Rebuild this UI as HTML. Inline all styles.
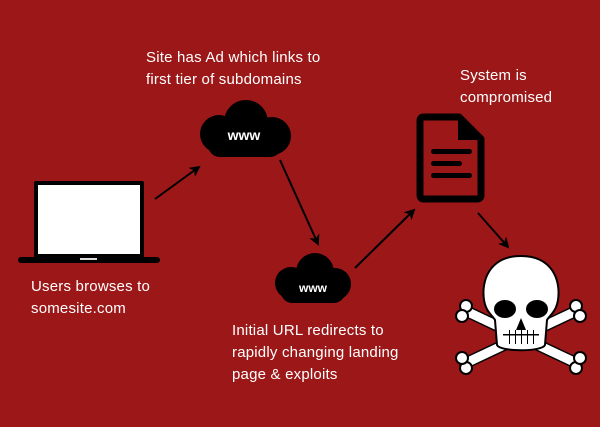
<!DOCTYPE html>
<html><head><style>
html,body{margin:0;padding:0;}
body{width:600px;height:427px;background:#9c1718;position:relative;overflow:hidden;font-family:"Liberation Sans",sans-serif;}
.t{position:absolute;color:#fff;font-size:15px;line-height:22px;white-space:nowrap;letter-spacing:0.2px;}
svg{position:absolute;left:0;top:0;}
</style></head><body>
<svg width="600" height="427" viewBox="0 0 600 427">
<defs><marker id="a" markerWidth="11" markerHeight="11" refX="9" refY="5.5" orient="auto" markerUnits="userSpaceOnUse"><path d="M0,0 L11,5.5 L0,11 L3,5.5z" fill="#000"/></marker></defs>
<rect x="34" y="181" width="110" height="80" rx="2" fill="#000"/>
<rect x="38" y="185" width="102" height="69" fill="#fff"/>
<rect x="18" y="257" width="142" height="6" rx="3" fill="#000"/>
<rect x="80" y="258" width="17" height="2" fill="#ddd"/>
<g fill="#000">
<circle cx="246" cy="122" r="22"/><circle cx="219" cy="134" r="19"/><circle cx="272" cy="136" r="19"/>
<rect x="208" y="128" width="74" height="29" rx="12"/>
</g>
<text x="244" y="140" fill="#fff" font-family="Liberation Sans" font-weight="bold" font-size="14" text-anchor="middle">www</text>
<g fill="#000">
<circle cx="315" cy="272" r="19"/><circle cx="291" cy="283" r="16"/><circle cx="335" cy="284" r="16"/>
<rect x="281" y="278" width="64" height="25" rx="11"/>
</g>
<text x="313" y="292" fill="#fff" font-family="Liberation Sans" font-weight="bold" font-size="12" text-anchor="middle">www</text>
<path d="M424,117 H459 L481,139 V195 Q481,199 477,199 H424 Q420,199 420,195 V121 Q420,117 424,117z" fill="none" stroke="#000" stroke-width="7" stroke-linejoin="round"/>
<path d="M458,116 V140 H482z" fill="#000"/>
<rect x="431" y="149" width="41" height="5" rx="2.5" fill="#000"/>
<rect x="431" y="161" width="31" height="5" rx="2.5" fill="#000"/>
<rect x="431" y="173" width="41" height="5" rx="2.5" fill="#000"/>
<g stroke="#000" stroke-width="2" marker-end="url(#a)">
<line x1="155" y1="199" x2="199" y2="167"/>
<line x1="280" y1="160" x2="318" y2="244"/>
<line x1="355" y1="268" x2="414" y2="210"/>
<line x1="478" y1="213" x2="508" y2="247"/>
</g>
<g stroke="#000" stroke-width="2" fill="#fff">
<path d="M468,312 L574,362" stroke-width="12" stroke="#000"/>
<path d="M574,312 L468,362" stroke-width="12" stroke="#000"/>
<path d="M468,312 L574,362" stroke-width="9" stroke="#fff"/>
<path d="M574,312 L468,362" stroke-width="9" stroke="#fff"/>
<circle cx="466" cy="306" r="6"/><circle cx="462" cy="316" r="6"/>
<circle cx="576" cy="306" r="6"/><circle cx="580" cy="316" r="6"/>
<circle cx="466" cy="368" r="6"/><circle cx="462" cy="358" r="6"/>
<circle cx="576" cy="368" r="6"/><circle cx="580" cy="358" r="6"/>
<path d="M521,256 C490,256 481,280 484,300 C486,312 492,315 495,320 L497,345 C500,352 542,352 545,345 L547,320 C550,315 556,312 558,300 C561,280 552,256 521,256z"/>
</g>
<g fill="#000">
<ellipse cx="505" cy="309" rx="11" ry="9"/><ellipse cx="537" cy="309" rx="11" ry="9"/>
<path d="M521,318 L516,330 H526z"/>
<rect x="503" y="334" width="36" height="1.5"/>
<rect x="509" y="330" width="1" height="14"/><rect x="515" y="330" width="1" height="14"/><rect x="521" y="330" width="1" height="14"/><rect x="527" y="330" width="1" height="14"/><rect x="533" y="330" width="1" height="14"/>
</g>
</svg>
<div class="t" style="left:146px;top:47px">Site has Ad which links to<br>first tier of subdomains</div>
<div class="t" style="left:460px;top:65px">System is<br>compromised</div>
<div class="t" style="left:31px;top:276px">Users browses to<br>somesite.com</div>
<div class="t" style="left:232px;top:320px">Initial URL redirects to<br>rapidly changing landing<br>page &amp; exploits</div>
</body></html>
